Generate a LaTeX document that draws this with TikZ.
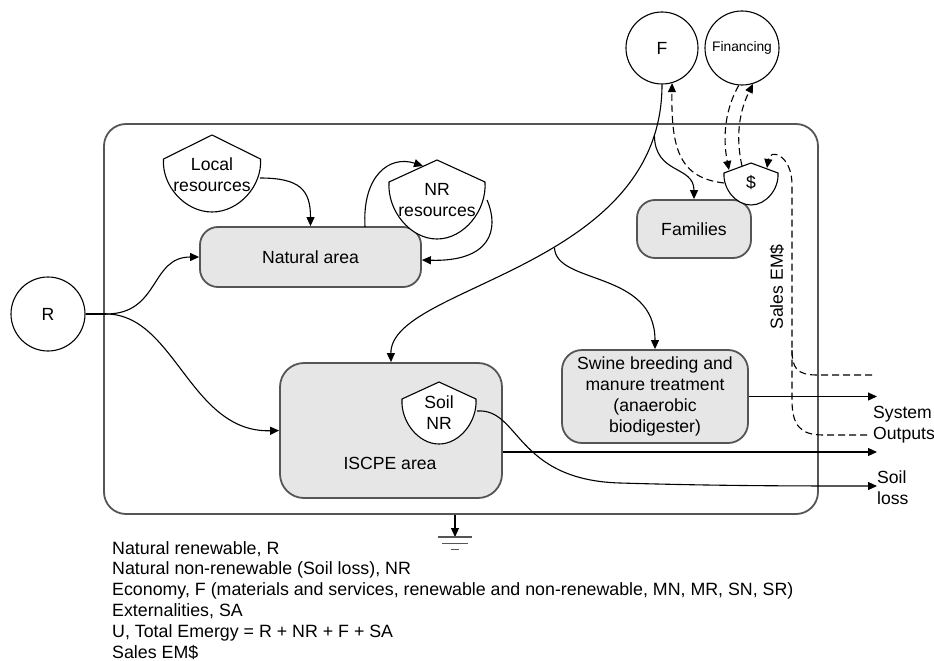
\documentclass[tikz,border=0pt]{standalone}
\usepackage{fontspec}
\setmainfont{Liberation Sans}
\usetikzlibrary{arrows.meta,calc}
\definecolor{boxfill}{RGB}{230,230,230}
\definecolor{boxline}{RGB}{85,85,85}
\newcommand\tankshape[5]{%
  \filldraw[tankline] (#1-#3,#2) -- (#1,#2-#4) -- (#1+#3,#2)
    .. controls (#1+1.04*#3,#2+0.5*#5) and (#1+0.56*#3,#2+#5) .. (#1,#2+#5)
    .. controls (#1-0.56*#3,#2+#5) and (#1-1.04*#3,#2+0.5*#5) .. (#1-#3,#2) -- cycle;}
\begin{document}
\begin{tikzpicture}[x=1pt,y=-1pt,
  lbl/.style={font=\fontsize{17.6}{21}\selectfont, inner sep=0pt, align=center},
  src/.style={draw=black, line width=1.1pt, circle, minimum size=74pt, inner sep=0pt, font=\fontsize{17.6}{21}\selectfont},
  proc/.style={draw=boxline, line width=1.8pt, fill=boxfill, rounded corners=18pt, inner sep=0pt, font=\fontsize{17.6}{21}\selectfont, align=center},
  flow/.style={line width=1.1pt, -{Triangle[length=9pt,width=8pt]}},
  moneyline/.style={line width=1.1pt, dash pattern=on 7pt off 4pt},
  money/.style={moneyline, -{Triangle[length=9pt,width=8pt]}},
  tankline/.style={draw=black, line width=1.1pt, fill=white},
]
\useasboundingbox (0,0) rectangle (934,661);

% system frame
\node[draw=boxline, line width=1.8pt, rounded corners=22pt, minimum width=714pt, minimum height=390pt, inner sep=0pt] (sys) at (461,319) {};

% sources
\node[src] (R) at (48,314) {R};
\node[src, minimum size=72pt] (F) at (662,48) {F};
\node[src, font=\fontsize{13.8}{16}\selectfont] (fin) at (742,48) {Financing};

% processes
\node[proc, minimum width=221pt, minimum height=60pt] (nat) at (310.5,257) {Natural area};
\node[proc, minimum width=114pt, minimum height=58pt] (fam) at (694,229) {Families};
\node[proc, minimum width=222pt, minimum height=135pt, rounded corners=24pt] (iscpe) at (391,430.5) {};
\node[lbl] (iscpetxt) at (390,463) {ISCPE area};
\node[proc, minimum width=186pt, minimum height=93pt, rounded corners=20pt] (swine) at (655,396.5) {Swine breeding and\\manure treatment\\(anaerobic\\biodigester)};

% storages
\tankshape{212}{159}{48.5}{24}{53}
\node[lbl] (local) at (212,175) {Local\\resources};
\tankshape{437}{182}{48}{22}{57}
\node[lbl] (nrres) at (437,200) {NR\\resources};
\tankshape{439}{399}{37}{17}{45}
\node[lbl] (soil) at (439,413) {Soil\\NR};
\tankshape{751}{173}{27}{10}{32}
\node[lbl] (money) at (751,183) {\$};

% connector end points
\coordinate (rj) at (106,314);
\coordinate (localE) at (260,178);
\coordinate (natTop) at (365,227);
\coordinate (nrRoof) at (423,166);
\coordinate (nrE) at (487,200);
\coordinate (soilE) at (477,411);
\coordinate (moneyL) at (724,183);
\coordinate (moneyRoofL) at (729,170);
\coordinate (moneyRoofC) at (742,166);
\coordinate (moneyRoofR) at (767,168);
\coordinate (out1) at (877,396.5);
\coordinate (out2) at (877,452);
\coordinate (out3) at (877,486);
\coordinate (sales1) at (872,375);
\coordinate (sales2) at (867,435);
\coordinate (gnd) at (455,537);

% renewable inputs
\draw[line width=1.1pt] (R.east) -- (rj);
\draw[flow] (rj) .. controls (160,314) and (150,257) .. (nat.west);
\draw[flow] (rj) .. controls (175,314) and (190,433) .. (iscpe.west);

% natural area flows
\draw[flow] (localE) .. controls (300,178) and (310.5,190) .. (nat.north);
\draw[flow] (natTop) .. controls (362,175) and (390,155) .. (nrRoof);
\draw[flow] (nrE) .. controls (500,230) and (490,262) .. ([yshift=-3pt]nat.east);

% economy inputs
\draw[flow] (F.south) .. controls (662,270) and (390,285) .. (iscpe.north)
  coordinate[pos=0.43] (brS) coordinate[pos=0.1] (brF);
\draw[flow] (brS) .. controls (556,285) and (655,270) .. (swine.north);
\draw[flow] (brF) .. controls (655,175) and (694,165) .. (fam.north);

% outputs
\draw[flow] (swine.east) -- (out1);
\draw[flow] ([yshift=-21.5pt]iscpe.east) -- (out2);
\draw[flow] (soilE) .. controls (520,408) and (515,480) .. (620,483)
  .. controls (720,486) and (800,486) .. (out3);

% money flows
\draw[money] (moneyL) .. controls (680,178) and (671,150) .. (F.-74);
\draw[money] (fin.-95) .. controls (722,115) and (724,145) .. (moneyRoofL);
\draw[money] (moneyRoofC) .. controls (735,135) and (740,110) .. (fin.-73);
\draw[money] (sales1) -- (817,375) .. controls (797,375) and (792,368) .. (792,350)
  -- (792,185) .. controls (792,155) and (770,148) .. (moneyRoofR);
\draw[moneyline] (sales2) -- (823,435) .. controls (800,435) and (792,425) .. (792,400) -- (792,350);

% labels
\node[lbl, rotate=90] (sales) at (777,287) {Sales EM\$};
\node[lbl, align=left, anchor=west] (sysout) at (873,424.5) {System\\Outputs};
\node[lbl, align=left, anchor=west] (soilloss) at (877,488) {Soil\\loss};

% heat sink
\draw[flow] (sys.south -| gnd) -- (gnd);
\draw[line width=1.4pt, boxline] (438,537) -- (472,537);
\draw[line width=1pt, boxline] (442,543) -- (468,543);
\draw[line width=1pt, boxline] (451,549) -- (459,549);

% legend
\foreach \t [count=\i] in {{Natural renewable, R},
  {Natural non-renewable (Soil loss), NR},
  {Economy, F (materials and services, renewable and non-renewable, MN, MR, SN, SR)},
  {Externalities, SA},
  {U, Total Emergy = R + NR + F + SA},
  {Sales EM\$}}
  \node[lbl, font=\fontsize{17.8}{21}\selectfont, anchor=base west] (leg\i) at (112,{554+20.8*(\i-1)}) {\t};
\end{tikzpicture}
\end{document}
